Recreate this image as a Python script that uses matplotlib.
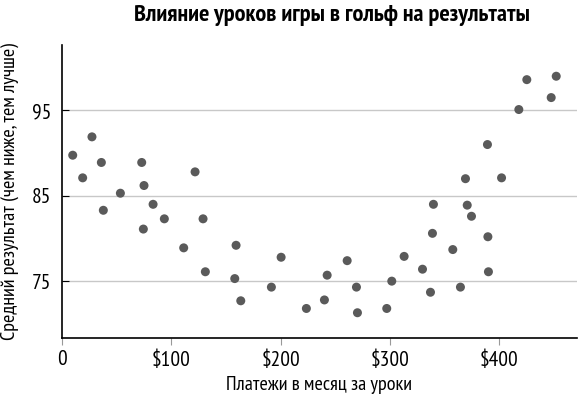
import matplotlib
matplotlib.use('Agg')
import matplotlib.pyplot as plt

# monthly lesson spend ($) and average score
spend = [9.8, 18.9, 27.4, 36, 37.8, 53.4, 72.9, 75, 74.4, 83.3,
         93.6, 111.3, 121.7, 129, 131.1, 158, 159.2, 163.5, 191.5, 200.4,
         223.5, 240, 242.5, 260.8, 269.3, 270.2, 297, 301.6, 312.9, 329.7,
         337, 338.8, 339.7, 357.4, 364.4, 369, 370.6, 374.5, 389.1, 389.5,
         390, 402, 417.8, 425.1, 447.4, 452]
score = [89.75, 87.1, 91.9, 88.9, 83.3, 85.3, 88.9, 86.2, 81.1, 84.0,
         82.3, 78.9, 87.8, 82.3, 76.1, 75.3, 79.2, 72.7, 74.3, 77.8,
         71.8, 72.8, 75.7, 77.4, 74.3, 71.3, 71.8, 75.0, 77.9, 76.4,
         73.7, 80.6, 84.0, 78.7, 74.3, 87.0, 83.9, 82.6, 91.0, 80.2,
         76.1, 87.1, 95.1, 98.6, 96.5, 99.0]

x_ticks = [0, 100, 200, 300, 400]
x_labels = ['0', '$100', '$200', '$300', '$400']
y_ticks = [75, 85, 95]

plt.rcParams['font.family'] = ['PT Sans Narrow', 'DejaVu Sans']
plt.rcParams['font.stretch'] = 'condensed'

fig = plt.figure(figsize=(5.78, 3.97), dpi=100)
ax = fig.add_axes([62 / 578, 1 - 337.5 / 397, 515 / 578, 292 / 397])

ax.scatter(spend, score, s=42, color='#5a5a5a', edgecolors='none', zorder=3)

ax.set_xlim(0, 471)
ax.set_ylim(68.4, 102.6)
ax.set_xticks(x_ticks)
ax.set_xticklabels(x_labels)
ax.set_yticks(y_ticks)
ax.yaxis.grid(True, color='#c8c8c8', linewidth=1)
ax.set_axisbelow(True)

for s in ['top', 'right']:
    ax.spines[s].set_visible(False)
for s in ['left', 'bottom']:
    ax.spines[s].set_color('black')
    ax.spines[s].set_linewidth(1.2)

ax.tick_params(axis='x', direction='out', length=5, color='#999999',
               labelsize=15.5, pad=4)
ax.tick_params(axis='y', direction='in', length=5, color='black',
               labelsize=15.5, pad=8)

ax.set_xlabel('Платежи в месяц за уроки', fontsize=14.5, labelpad=5)
ax.set_ylabel('Средний результат (чем ниже, тем лучше)', fontsize=14.5,
              labelpad=9)

fig.text(332 / 578, 1 - 15 / 397, 'Влияние уроков игры в гольф на результаты',
         ha='center', va='center', fontsize=17.5, fontweight='bold')

fig.savefig('out.png', dpi=100)
